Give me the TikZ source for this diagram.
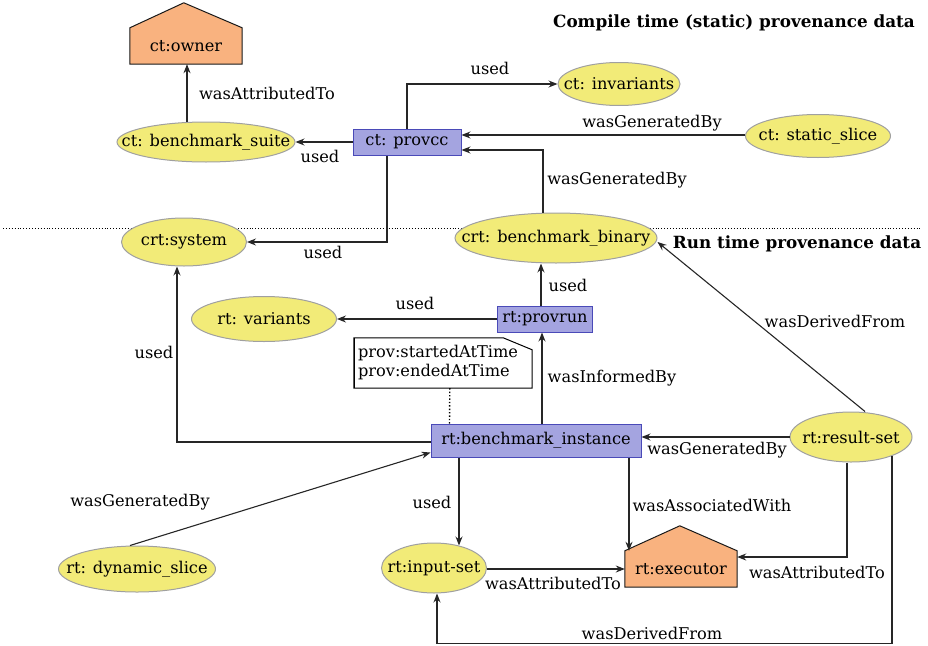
\documentclass[tikz,border=0pt]{standalone}
\usepackage{fontspec}
\setmainfont{DejaVu Serif}
\usetikzlibrary{shapes.geometric,arrows.meta,backgrounds}
\definecolor{ellfill}{HTML}{F2EB78}
\definecolor{ellline}{HTML}{A0A0A0}
\definecolor{boxfill}{HTML}{A4A4E0}
\definecolor{boxline}{HTML}{4A4AB8}
\definecolor{agentfill}{HTML}{F9B27F}
\begin{document}
\begin{tikzpicture}[x=1pt,y=-1pt, font=\fontsize{16.2}{19}\selectfont,
 ent/.style={ellipse,draw=ellline,fill=ellfill,line width=1pt,inner xsep=-45pt,inner ysep=-20pt},
 act/.style={rectangle,draw=boxline,fill=boxfill,line width=1pt,inner xsep=-10pt,inner ysep=-5pt},
 agentbody/.style={rectangle,inner xsep=-10pt,inner ysep=-5pt,minimum width=112pt,minimum height=36pt},
 agentroof/.style={draw=black!90,fill=agentfill,line width=1pt},
 rel/.style={draw=black!85,line width=1.1pt,-{Stealth[length=9pt,width=7pt,inset=3pt]}},
 lbl/.style={inner sep=0pt},
 ttl/.style={inner sep=0pt,font=\fontsize{16.8}{19}\selectfont\bfseries}]
\useasboundingbox (0,0) rectangle (928,645);

% separator
\draw[dotted,line width=0.9pt] (3,228) -- (922,228);
\node[ttl] (t1) at (734,23) {Compile time (static) provenance data};
\node[ttl] (t2) at (797,244) {Run time provenance data};

% nodes
\node[agentbody] (owner) at (186,46) {ct:owner};
\node[ent,minimum width=178pt,minimum height=40pt] (suite) at (206,142) {ct: benchmark\_suite};
\node[act,minimum width=108pt,minimum height=26pt] (provcc) at (407,142) {ct: provcc};
\node[ent,minimum width=122pt,minimum height=43pt] (inv) at (619,84) {ct: invariants};
\node[ent,minimum width=145pt,minimum height=43pt] (static) at (818,136) {ct: static\_slice};
\node[ent,minimum width=202pt,minimum height=50pt] (binary) at (556,238) {crt: benchmark\_binary};
\node[ent,minimum width=125pt,minimum height=48pt] (system) at (184,242) {crt:system};
\node[ent,minimum width=145pt,minimum height=45pt] (variants) at (264,319) {rt: variants};
\node[act,minimum width=95pt,minimum height=26pt] (provrun) at (545,319) {rt:provrun};
\node[inner sep=0pt,minimum width=178pt,minimum height=50pt,align=left,text width=170pt] (note) at (443,363)
  {prov:startedAtTime\\prov:endedAtTime};
\node[act,minimum width=210pt,minimum height=33pt] (inst) at (536,440.5) {rt:benchmark\_instance};
\node[ent,minimum width=122pt,minimum height=50pt] (result) at (851,437) {rt:result-set};
\node[ent,minimum width=157pt,minimum height=46pt] (dyn) at (137,569) {rt: dynamic\_slice};
\node[ent,minimum width=105pt,minimum height=50pt] (input) at (434,568) {rt:input-set};
\node[agentbody] (exec) at (681,569) {rt:executor};

\begin{scope}[on background layer]
\draw[agentroof] (owner.south west) -- (owner.north west) -- ++(54,-25) -- (owner.north east) -- (owner.south east) -- cycle;
\draw[agentroof] (exec.south west) -- (exec.north west) -- ++(55,-25) -- (exec.north east) -- (exec.south east) -- cycle;
\end{scope}

% note shape
\draw[line width=1pt] (note.north west) -- ([xshift=-29pt]note.north east) -- ([yshift=-12pt]note.north east)
  -- (note.south east) -- (note.south west) -- cycle;
\draw[line width=1pt] ([xshift=1pt]note.north west) -- ([xshift=1pt]note.south west);
\draw[dotted,line width=1.4pt] ([xshift=96pt]note.south west) -- ([xshift=19pt]inst.north west);

% connectors
\draw[rel] ([xshift=-19pt]suite.north) -- ([xshift=-19pt]suite.north |- owner.south);
\draw[rel] (provcc.west) -- (suite.east);
\draw[rel] (provcc.north) |- (inv.west);
\draw[rel] ([yshift=1pt]static.west) -- ([yshift=1pt]static.west -| provcc.east);
\draw[rel] ([xshift=-13pt]binary.north) |- ([yshift=-8pt]provcc.east);
\draw[rel] ([xshift=-20pt]provcc.south) |- (system.east);
\draw[rel] ([xshift=-4pt]provrun.north) -- ([xshift=-4pt]provrun.north |- binary.south);
\draw[rel] (provrun.west) -- (variants.east);
\draw[rel] ([xshift=6pt]inst.north) -- ([xshift=6pt]inst.north |- provrun.south);
\draw[rel] ([yshift=-1.5pt]inst.west) -| ([xshift=-7pt]system.south);
\draw[rel] ([xshift=14pt]result.north) -- ([yshift=-4pt]binary.east);
\draw[rel] (result.west) -- (result.west -| inst.east);
\draw[rel] ([xshift=-7pt]dyn.north) -- ([yshift=5pt]inst.south west);
\draw[rel] ([xshift=-77pt]inst.south) -- ([xshift=-77pt,yshift=-3pt]inst.south |- input.north);
\draw[rel] ([xshift=93pt]inst.south) -- ([xshift=93pt]inst.south |- exec.north);
\draw[rel] ([yshift=-1pt]input.east) -- ([yshift=-1pt]input.east -| exec.west);
\draw[rel] ([xshift=-4pt]result.south) |- ([yshift=12pt]exec.east);
\draw[rel] ([xshift=41pt,yshift=7pt]result.south) -- ++(0,188) -| ([xshift=3pt]input.south);

% labels
\node[lbl] (l1) at (267,93) {wasAttributedTo};
\node[lbl] (l2) at (320,156) {used};
\node[lbl] (l3) at (490,68) {used};
\node[lbl] (l4) at (652,123) {wasGeneratedBy};
\node[lbl] (l5) at (617,180) {wasGeneratedBy};
\node[lbl] (l6) at (323,252) {used};
\node[lbl] (l7) at (568,285) {used};
\node[lbl] (l8) at (415,303) {used};
\node[lbl] (l9) at (154,352) {used};
\node[lbl] (l10) at (835,321) {wasDerivedFrom};
\node[lbl] (l11) at (612,378) {wasInformedBy};
\node[lbl] (l12) at (717,450) {wasGeneratedBy};
\node[lbl] (l13) at (140,502) {wasGeneratedBy};
\node[lbl] (l14) at (432,502) {used};
\node[lbl] (l15) at (712,505) {wasAssociatedWith};
\node[lbl] (l16) at (553,583) {wasAttributedTo};
\node[lbl] (l17) at (817,572) {wasAttributedTo};
\node[lbl] (l18) at (652,633) {wasDerivedFrom};
\end{tikzpicture}
\end{document}
